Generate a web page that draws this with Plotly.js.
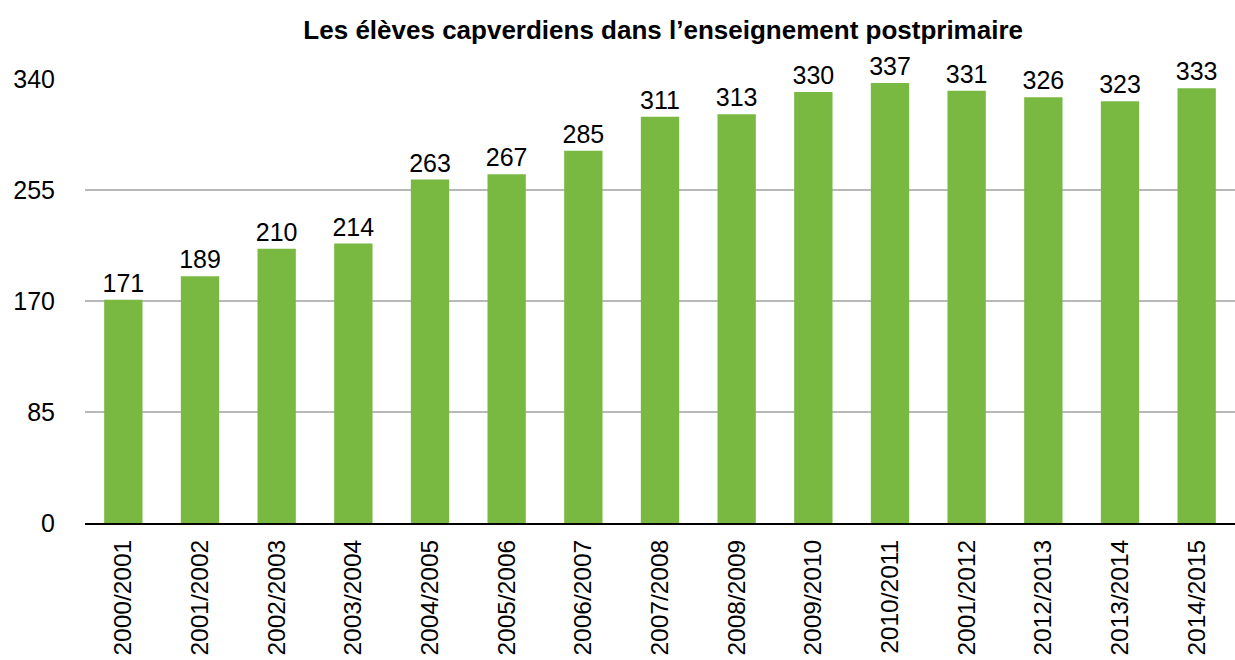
<!DOCTYPE html>
<html><head><meta charset="utf-8">
<script src="https://cdn.plot.ly/plotly-3.0.1.min.js"></script>
<style>body{margin:0;background:#fff}#chart{width:1235px;height:660px}</style>
</head><body><div id="chart"></div>
<script>
const categories = ["2000/2001","2001/2002","2002/2003","2003/2004","2004/2005","2005/2006","2006/2007","2007/2008","2008/2009","2009/2010","2010/2011","2001/2012","2012/2013","2013/2014","2014/2015"];
const values = [171,189,210,214,263,267,285,311,313,330,337,331,326,323,333];
const yTicks = [0,85,170,255,340];

Plotly.newPlot('chart', [{
  type:'bar', x:categories, y:values,
  marker:{color:'#79b942'},
  text:values.map(String), textposition:'outside', cliponaxis:false, constraintext:'none',
  textfont:{family:'Liberation Sans, Arial, sans-serif', size:25, color:'#000'},
  hoverinfo:'none'
}], {
  width:1235, height:660,
  margin:{l:85, r:0, t:79, b:137},
  paper_bgcolor:'#fff', plot_bgcolor:'#fff',
  bargap:0.5,
  showlegend:false,
  title:{text:'<b>Les élèves capverdiens dans l’enseignement postprimaire</b>', x:0.537, xanchor:'center', y:0.955, yanchor:'middle',
    font:{family:'Liberation Sans, Arial, sans-serif', size:26, color:'#000'}},
  font:{family:'Liberation Sans, Arial, sans-serif', size:24, color:'#000'},
  xaxis:{type:'category', tickangle:-90, ticks:'', showgrid:false, zeroline:false,
    showline:true, linecolor:'#000', linewidth:2, ticklabelstandoff:5,
    tickfont:{size:24.5}},
  yaxis:{range:[0,340], tickvals:yTicks, ticktext:yTicks.map(String), ticks:'',
    showgrid:true, gridcolor:'#b8b8b8', gridwidth:2, zeroline:false, showline:false,
    ticklabelstandoff:29, tickfont:{size:25}}
}, {displayModeBar:false, staticPlot:true});
</script></body></html>
